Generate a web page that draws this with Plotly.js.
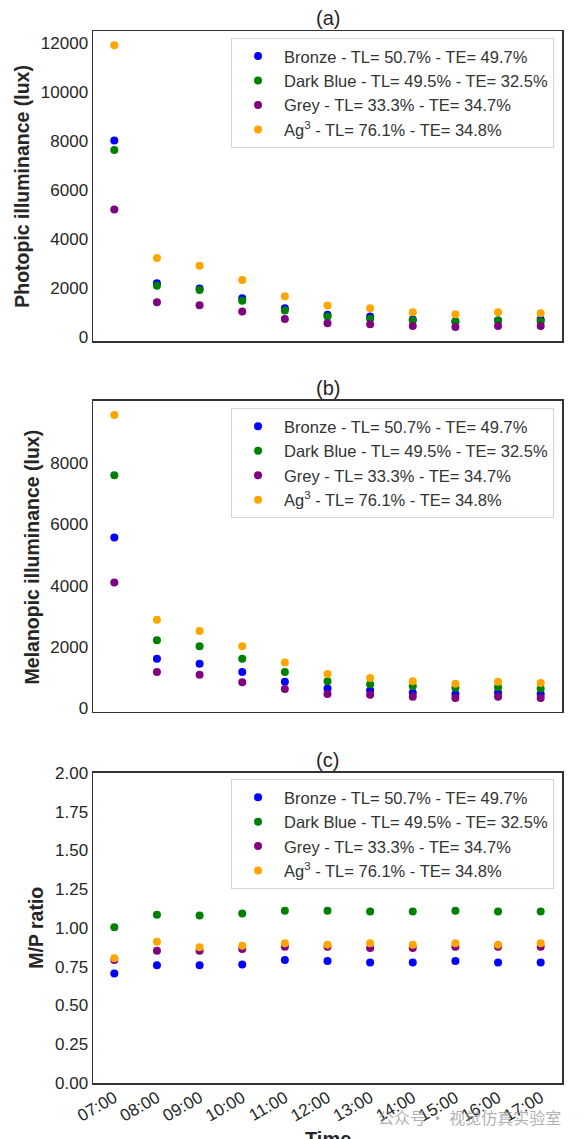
<!DOCTYPE html>
<html>
<head>
<meta charset="utf-8">
<script src="https://cdn.plot.ly/plotly-3.0.1.min.js"></script>
<style>html,body{margin:0;padding:0;background:#fff;}#chart{width:584px;height:1139px;}</style>
</head>
<body>
<div id="chart"></div>
<script>
const times = ['07:00','08:00','09:00','10:00','11:00','12:00','13:00','14:00','15:00','16:00','17:00'];
const seriesNames = [
  'Bronze - TL= 50.7% - TE= 49.7%',
  'Dark Blue - TL= 49.5% - TE= 32.5%',
  'Grey - TL= 33.3% - TE= 34.7%',
  'Ag<sup>3</sup> - TL= 76.1% - TE= 34.8%'
];
const seriesColors = ['#0000ff', '#008000', '#800080', '#ffa500'];

// (a) Photopic illuminance (lux)
const bronzeP   = [8030, 2200, 1990, 1590, 1180, 910, 840, 720, 640, 680, 720];
const darkBlueP = [7650, 2100, 1925, 1490, 1085, 840, 750, 680, 640, 680, 640];
const greyP     = [5220, 1420, 1300, 1045, 745, 570, 530, 450, 410, 450, 450];
const ag3P      = [11930, 3230, 2915, 2330, 1670, 1290, 1180, 1020, 935, 1020, 975];

// (b) Melanopic illuminance (lux)
const bronzeM   = [5570, 1610, 1440, 1175, 850, 630, 565, 490, 455, 490, 455];
const darkBlueM = [7610, 2210, 2015, 1610, 1175, 870, 775, 705, 655, 675, 630];
const greyM     = [4100, 1175, 1080, 840, 620, 455, 425, 360, 325, 360, 325];
const ag3M      = [9580, 2885, 2515, 2015, 1480, 1110, 980, 870, 785, 850, 815];

// (c) M/P ratio
const bronzeR   = [0.707, 0.759, 0.759, 0.765, 0.793, 0.787, 0.778, 0.778, 0.787, 0.778, 0.778];
const darkBlueR = [1.004, 1.086, 1.080, 1.093, 1.112, 1.112, 1.106, 1.106, 1.112, 1.106, 1.106];
const greyR     = [0.793, 0.853, 0.853, 0.864, 0.879, 0.879, 0.871, 0.871, 0.879, 0.879, 0.879];
const ag3R      = [0.804, 0.912, 0.875, 0.886, 0.901, 0.892, 0.901, 0.892, 0.901, 0.892, 0.901];

const panelTitles = ['(a)', '(b)', '(c)'];
const yTitles = ['Photopic illuminance (lux)', 'Melanopic illuminance (lux)', 'M/P ratio'];

const panels = [
  {data: [bronzeP, darkBlueP, greyP, ag3P], xa: 'x', ya: 'y', legend: 'legend'},
  {data: [bronzeM, darkBlueM, greyM, ag3M], xa: 'x2', ya: 'y2', legend: 'legend2'},
  {data: [bronzeR, darkBlueR, greyR, ag3R], xa: 'x3', ya: 'y3', legend: 'legend3'}
];

const traces = [];
panels.forEach(p => {
  p.data.forEach((vals, i) => {
    traces.push({
      type: 'scatter', mode: 'markers',
      x: times, y: vals,
      xaxis: p.xa, yaxis: p.ya, legend: p.legend,
      name: seriesNames[i],
      marker: {color: seriesColors[i], size: 8},
      hoverinfo: 'skip'
    });
  });
});

const FONT = 'Liberation Sans, Arial, sans-serif';
const TXT = '#262626';
const frame = {showline: true, mirror: true, linecolor: '#333333', linewidth: 1.5,
  showgrid: false, zeroline: false, ticks: '', tickfont: {family: FONT, size: 17, color: TXT}};

const doms = [[0.7053, 1.0], [0.3527, 0.6483], [0.0, 0.2947]];

function xax(show) {
  return Object.assign({}, frame, {type: 'category', range: [-0.5, 10.5], domain: [0, 1],
    showticklabels: show, tickangle: -30, fixedrange: true});
}

const legendBase = {
  font: {family: FONT, size: 16.5, color: '#333333'},
  bgcolor: 'rgba(255,255,255,0.9)', bordercolor: '#d4d4d4', borderwidth: 1,
  xref: 'paper', yref: 'paper', xanchor: 'right', yanchor: 'top', x: 0.983,
  itemsizing: 'trace', itemwidth: 42, tracegroupgap: 0
};

const annotations = [];
doms.forEach((d, i) => {
  annotations.push({text: panelTitles[i], xref: 'paper', yref: 'paper', x: 0.5, y: d[1],
    xanchor: 'center', yanchor: 'bottom', yshift: 0, showarrow: false,
    font: {family: FONT, size: 20, color: TXT}});
});
const yTitleX = [-0.152, -0.128, -0.122];
doms.forEach((d, i) => {
  annotations.push({text: '<b>' + yTitles[i] + '</b>', xref: 'paper', yref: 'paper',
    x: yTitleX[i], y: (d[0] + d[1]) / 2, xanchor: 'center', yanchor: 'middle',
    textangle: -90, showarrow: false, font: {family: FONT, size: 19.5, color: TXT}});
});
annotations.push({text: '<b>Time</b>', xref: 'paper', yref: 'paper', x: 0.5, y: -0.041,
  xanchor: 'center', yanchor: 'top', showarrow: false, font: {family: FONT, size: 20, color: TXT}});
annotations.push({text: '公众号 · 视觉仿真实验室', xref: 'paper', yref: 'paper', x: 1.003, y: -0.0325,
  xanchor: 'right', yanchor: 'middle', showarrow: false,
  font: {family: 'Noto Sans CJK SC, sans-serif', size: 16, color: 'rgba(150,150,150,0.75)'}});

const layout = {
  width: 584, height: 1139,
  margin: {l: 93, r: 22, t: 31, b: 56},
  paper_bgcolor: '#ffffff', plot_bgcolor: '#ffffff',
  font: {family: FONT, color: TXT},
  xaxis: Object.assign(xax(false), {anchor: 'y'}),
  xaxis2: Object.assign(xax(false), {anchor: 'y2'}),
  xaxis3: Object.assign(xax(true), {anchor: 'y3', ticklabelstandoff: -3}),
  yaxis: Object.assign({}, frame, {domain: doms[0], anchor: 'x', range: [-160, 12510],
    tickvals: [0, 2000, 4000, 6000, 8000, 10000, 12000], ticktext: ['0','2000','4000','6000','8000','10000','12000']}),
  yaxis2: Object.assign({}, frame, {domain: doms[1], anchor: 'x2', range: [-135, 10040],
    tickvals: [0, 2000, 4000, 6000, 8000], ticktext: ['0','2000','4000','6000','8000']}),
  yaxis3: Object.assign({}, frame, {domain: doms[2], anchor: 'x3', range: [0, 2],
    tickvals: [0, 0.25, 0.5, 0.75, 1, 1.25, 1.5, 1.75, 2],
    ticktext: ['0.00','0.25','0.50','0.75','1.00','1.25','1.50','1.75','2.00']}),
  legend: Object.assign({}, legendBase, {y: 0.9935}),
  legend2: Object.assign({}, legendBase, {y: 0.6415}),
  legend3: Object.assign({}, legendBase, {y: 0.289}),
  showlegend: true,
  annotations: annotations
};

Plotly.newPlot('chart', traces, layout, {displayModeBar: false, staticPlot: true});
</script>
</body>
</html>
